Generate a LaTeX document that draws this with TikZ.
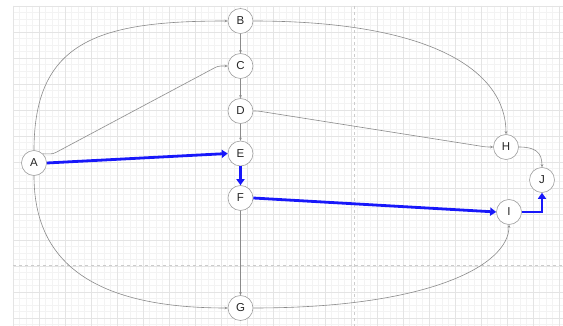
\documentclass[tikz,border=0pt]{standalone}
\usepackage{fontspec}
\setmainfont{Liberation Sans}
\usetikzlibrary{arrows.meta}
\definecolor{gridminor}{HTML}{F3F3F3}
\definecolor{gridmajor}{HTML}{E4E4E4}
\definecolor{edgegray}{HTML}{8A8A8A}
\definecolor{nodegray}{HTML}{A0A0A0}
\definecolor{pathblue}{RGB}{24,24,250}
\definecolor{pagebreak}{HTML}{CCCCCC}
\tikzset{
  vtx/.style={circle,draw=nodegray,line width=0.6pt,fill=white,minimum size=25pt,inner sep=0pt,font=\fontsize{11.5}{11.5}\selectfont,text=black!85},
  gedge/.style={draw=edgegray,line width=0.6pt,-{Stealth[length=3pt,width=2.6pt]}},
  bedge/.style={draw=pathblue,line width=2.8pt,-{Triangle[length=6pt,width=8pt]}}
}
\begin{document}
\begin{tikzpicture}[x=1pt,y=-1pt]
\useasboundingbox (0,0) rectangle (563,326);
\fill[white] (0,0) rectangle (563,326);
% grid
\foreach \i in {0,...,85} {\draw[gridminor,line width=0.4pt] ({13+6.5*\i},6) -- ({13+6.5*\i},326);}
\foreach \j in {0,...,49} {\draw[gridminor,line width=0.4pt] (13,{6+6.5*\j}) -- (563,{6+6.5*\j});}
\foreach \i in {0,...,21} {\draw[gridmajor,line width=0.4pt] ({13+26*\i},6) -- ({13+26*\i},326);}
\foreach \j in {0,...,12} {\draw[gridmajor,line width=0.4pt] (13,{6+26*\j}) -- (563,{6+26*\j});}
\draw[pagebreak,dashed,line width=0.6pt] (354,6) -- (354,326);
\draw[pagebreak,dashed,line width=0.6pt] (13,265) -- (563,265);
% nodes
\node[vtx] (A) at (34,163) {A};
\node[vtx] (B) at (240.5,21) {B};
\node[vtx] (C) at (240.5,66) {C};
\node[vtx] (D) at (240.5,111) {D};
\node[vtx] (E) at (240.5,153.5) {E};
\node[vtx] (F) at (240.5,198) {F};
\node[vtx] (G) at (240.5,308) {G};
\node[vtx] (H) at (506,147) {H};
\node[vtx] (I) at (509,212) {I};
\node[vtx] (J) at (542,180) {J};
\coordinate (ac1) at (53,154);
\coordinate (ac2) at (218,66);
\coordinate (dh1) at (258,111);
\coordinate (dh2) at (486,147);
\coordinate (ij) at (542,212);
% gray edges
\draw[gedge] (A.north) .. controls (34,40) and (100,21) .. (B.west);
\draw[gedge] (A.south) .. controls (34,260) and (90,308) .. (G.west);
\draw[gedge,rounded corners=3pt] (A.46) -- (ac1) -- (ac2) -- (C.west);
\draw[gedge] (B) -- (C);
\draw[gedge] (C) -- (D);
\draw[gedge] (D) -- (E);
\draw[gedge] (F) -- (G);
\draw[gedge,rounded corners=3pt] (D.east) -- (dh1) -- (dh2) -- (H.west);
\draw[gedge] (B.east) .. controls (430,21) and (506,70) .. (H.north);
\draw[gedge] (G.east) .. controls (430,308) and (509,265) .. (I.south);
\draw[gedge] (H.east) .. controls (535,147) and (542,152) .. (J.north);
% blue path
\draw[bedge] (A.east) -- (E.west);
\draw[bedge] (E.south) -- (F.north);
\draw[bedge] (F.east) -- (I.west);
\draw[bedge] (I.east) -- (ij) -- (J.south);
\end{tikzpicture}
\end{document}
